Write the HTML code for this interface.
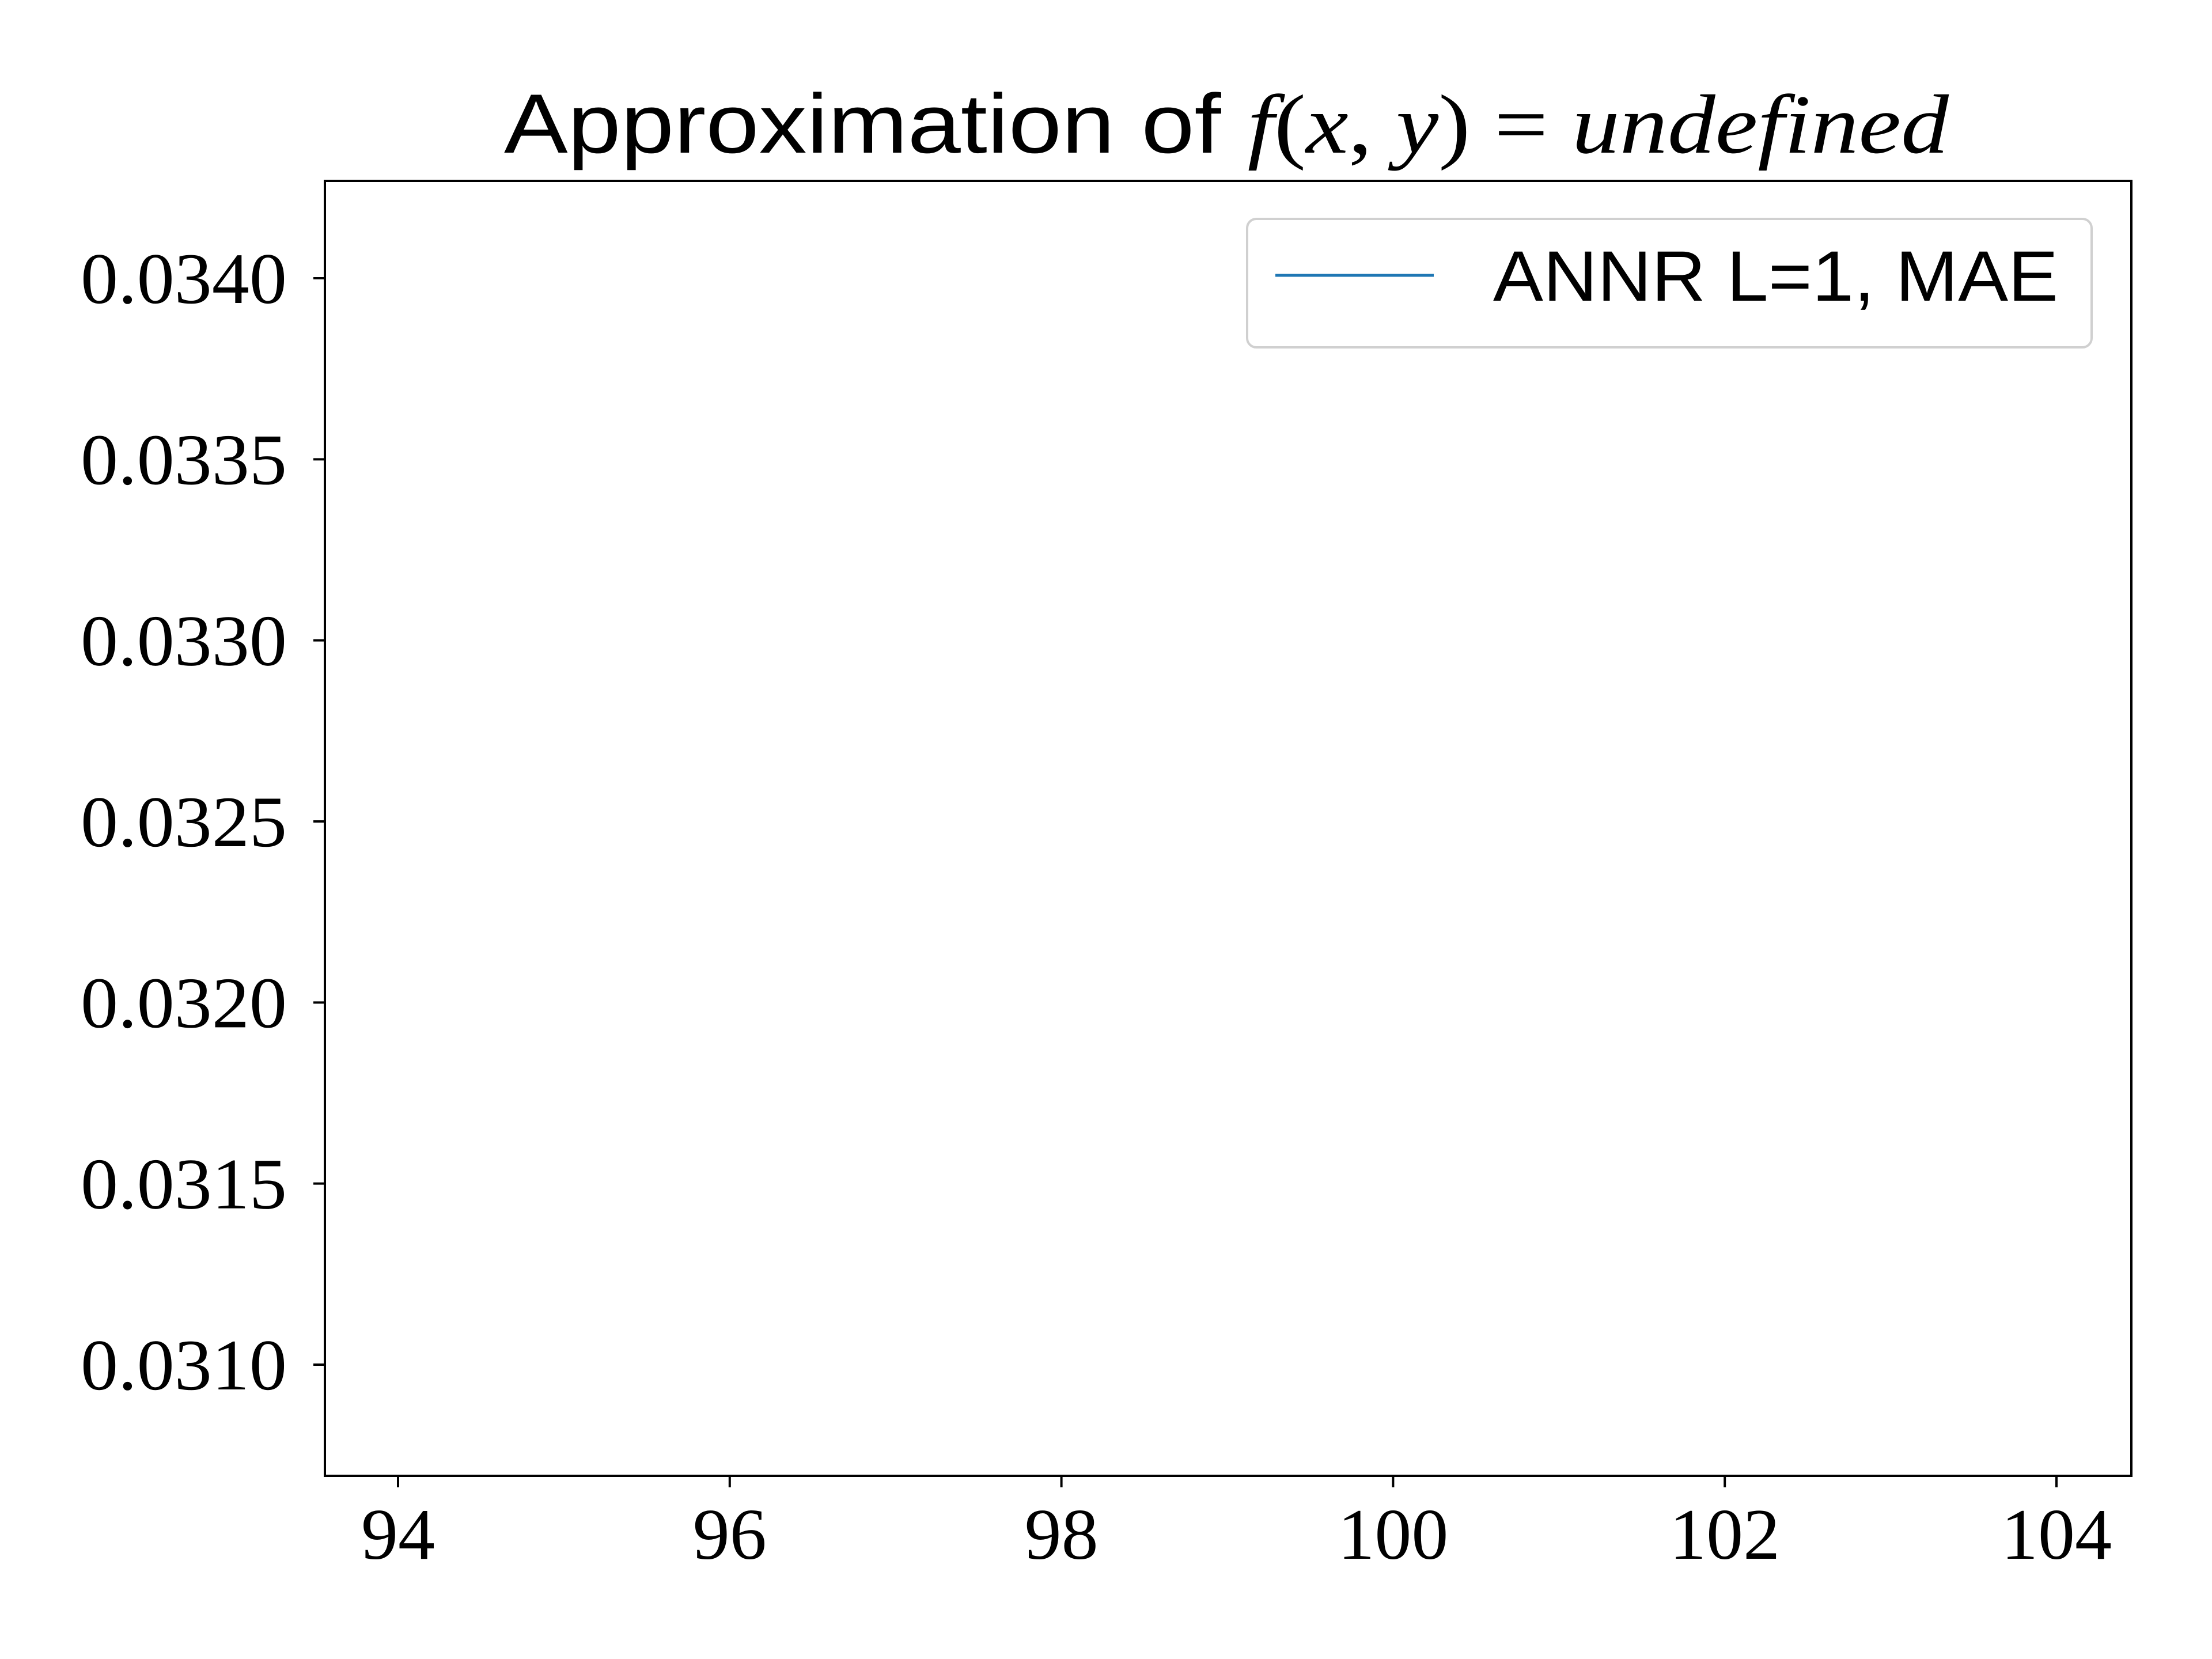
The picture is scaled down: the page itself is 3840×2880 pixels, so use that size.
<!DOCTYPE html>
<html><head><meta charset="utf-8"><style>
html,body{margin:0;padding:0;background:#fff}
svg{display:block}
</style></head><body>
<svg id="chart" width="3840" height="2880" viewBox="0 0 3840 2880" xmlns="http://www.w3.org/2000/svg">
<rect width="3840" height="2880" fill="#fff"/>
<text x="875" y="265" textLength="2508" lengthAdjust="spacingAndGlyphs" font-size="146" fill="#000"><tspan font-family="Liberation Sans, sans-serif">Approximation of </tspan><tspan font-family="Liberation Serif, serif" font-style="italic">f</tspan><tspan font-family="Liberation Serif, serif">(</tspan><tspan font-family="Liberation Serif, serif" font-style="italic">x</tspan><tspan font-family="Liberation Serif, serif">, </tspan><tspan font-family="Liberation Serif, serif" font-style="italic">y</tspan><tspan font-family="Liberation Serif, serif">) = </tspan><tspan font-family="Liberation Serif, serif" font-style="italic">undefined</tspan></text>
<g id="ticks"></g>
<g id="series"></g>
<rect x="564" y="314" width="3136" height="2248" fill="none" stroke="#000" stroke-width="4"/>
<g>
<rect x="2165" y="380" width="1466" height="223" rx="16" fill="#fff" fill-opacity="0.8" stroke="#d0d0d0" stroke-width="4"/>
<line x1="2214" y1="478" x2="2489" y2="478" stroke="#1f77b4" stroke-width="5"/>
<text x="2592" y="522" textLength="981" lengthAdjust="spacingAndGlyphs" font-family="Liberation Sans, sans-serif" font-size="124" fill="#000">ANNR L=1, MAE</text>
</g>
</svg>
<script>
const xTicks = [94, 96, 98, 100, 102, 104];
const yTicks = [0.0310, 0.0315, 0.0320, 0.0325, 0.0330, 0.0335, 0.0340];
const yTickLabels = ["0.0310","0.0315","0.0320","0.0325","0.0330","0.0335","0.0340"];
const seriesX = [];
const seriesY = [];
const NS = "http://www.w3.org/2000/svg";
function xScale(v){ return 691 + (v - 94) * (3570 - 691) / 10; }
function yScale(v){ return 2369 - (v - 0.0310) * (2369 - 483) / 0.0030; }
const g = document.getElementById('ticks');
xTicks.forEach(function(t){
  const x = xScale(t);
  const l = document.createElementNS(NS,'line');
  
  
  l.setAttribute('x1',x); l.setAttribute('x2',x); l.setAttribute('y1',2562); l.setAttribute('y2',2582);
  l.setAttribute('stroke','#000'); l.setAttribute('stroke-width','4');
  g.appendChild(l);
  const tx = document.createElementNS(NS,'text');
  
  
  tx.setAttribute('x',x); tx.setAttribute('y',2706);
  tx.setAttribute('text-anchor','middle'); tx.setAttribute('font-family','Liberation Serif, serif'); tx.setAttribute('font-size','126');
  tx.setAttribute('textLength', String(t).length * 64);
  tx.setAttribute('lengthAdjust','spacingAndGlyphs');
  tx.textContent = String(t);
  g.appendChild(tx);
});
yTicks.forEach(function(t,i){
  const y = yScale(t);
  const l = document.createElementNS(NS,'line');
  
  
  l.setAttribute('x1',544); l.setAttribute('x2',564); l.setAttribute('y1',y); l.setAttribute('y2',y);
  l.setAttribute('stroke','#000'); l.setAttribute('stroke-width','4');
  g.appendChild(l);
  const tx = document.createElementNS(NS,'text');
  
  
  tx.setAttribute('x',140); tx.setAttribute('y',y+43);
  tx.setAttribute('textLength','358'); tx.setAttribute('lengthAdjust','spacingAndGlyphs');
  tx.setAttribute('font-family','Liberation Serif, serif'); tx.setAttribute('font-size','126');
  tx.textContent = yTickLabels[i];
  g.appendChild(tx);
});
const s = document.getElementById('series');
const p = document.createElementNS(NS,'polyline');


p.setAttribute('points', seriesX.map(function(v,i){return xScale(v)+','+yScale(seriesY[i]);}).join(' '));
p.setAttribute('fill','none'); p.setAttribute('stroke','#1f77b4'); p.setAttribute('stroke-width','5');
s.appendChild(p);
</script>
</body></html>
